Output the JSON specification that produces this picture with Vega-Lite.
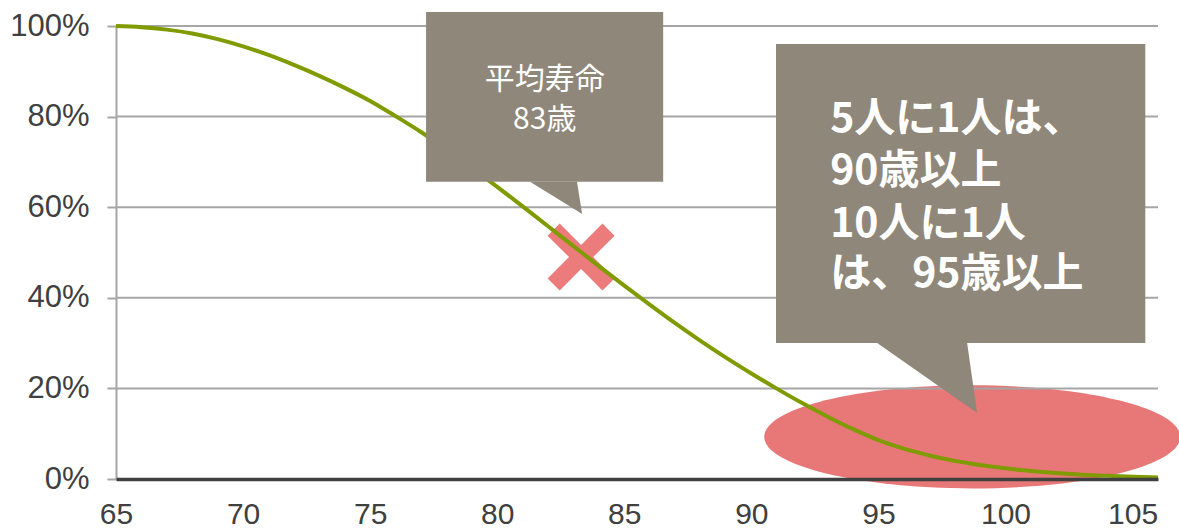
{
  "$schema": "https://vega.github.io/schema/vega-lite/v6.json",
  "width": 1042,
  "height": 453,
  "autosize": {"type": "none"},
  "padding": {"left": 116, "top": 26, "right": 21, "bottom": 51},
  "background": "white",
  "config": {"view": {"stroke": null}, "font": "Liberation Sans"},
  "datasets": {
    "survival": [
      {"age": 65, "pct": 1.0}, {"age": 66, "pct": 0.9975}, {"age": 67, "pct": 0.992}, {"age": 68, "pct": 0.9835},
      {"age": 69, "pct": 0.971}, {"age": 70, "pct": 0.955}, {"age": 71, "pct": 0.936}, {"age": 72, "pct": 0.914},
      {"age": 73, "pct": 0.89}, {"age": 74, "pct": 0.8635}, {"age": 75, "pct": 0.8345}, {"age": 76, "pct": 0.801},
      {"age": 77, "pct": 0.766}, {"age": 78, "pct": 0.728}, {"age": 79, "pct": 0.687}, {"age": 80, "pct": 0.645},
      {"age": 81, "pct": 0.602}, {"age": 82, "pct": 0.558}, {"age": 83, "pct": 0.514}, {"age": 84, "pct": 0.470},
      {"age": 85, "pct": 0.427}, {"age": 86, "pct": 0.385}, {"age": 87, "pct": 0.344}, {"age": 88, "pct": 0.305},
      {"age": 89, "pct": 0.268}, {"age": 90, "pct": 0.233}, {"age": 91, "pct": 0.1995}, {"age": 92, "pct": 0.1675},
      {"age": 93, "pct": 0.1375}, {"age": 94, "pct": 0.110}, {"age": 95, "pct": 0.086}, {"age": 96, "pct": 0.067},
      {"age": 97, "pct": 0.052}, {"age": 98, "pct": 0.040}, {"age": 99, "pct": 0.031}, {"age": 100, "pct": 0.0235},
      {"age": 101, "pct": 0.0175}, {"age": 102, "pct": 0.013}, {"age": 103, "pct": 0.0095}, {"age": 104, "pct": 0.007},
      {"age": 105, "pct": 0.005}, {"age": 106, "pct": 0.0035}
    ],
    "grid": [{"pct": 0.2}, {"pct": 0.4}, {"pct": 0.6}, {"pct": 0.8}, {"pct": 1.0}],
    "ellipse": [{"age": 98.69, "pct": 0.093}],
    "cross": [{"age": 83.3, "pct": 0.49}],
    "boxes": [
      {"age": 77.2, "age2": 86.53, "pct": 1.031, "pct2": 0.656},
      {"age": 90.97, "age2": 105.5, "pct": 0.96, "pct2": 0.30}
    ],
    "pointers": [
      {"box": "a", "age": 81.29, "pct": 0.656, "pct2": 0.656},
      {"box": "a", "age": 83.14, "pct": 0.656, "pct2": 0.592},
      {"box": "a", "age": 83.34, "pct": 0.585, "pct2": 0.585},
      {"box": "b", "age": 94.95, "pct": 0.30, "pct2": 0.30},
      {"box": "b", "age": 98.49, "pct": 0.30, "pct2": 0.161},
      {"box": "b", "age": 98.88, "pct": 0.146, "pct2": 0.146}
    ],
    "label1": [
      {"age": 81.87, "pct": 0.881, "text": "平均寿命"},
      {"age": 81.87, "pct": 0.792, "text": "83歳"}
    ],
    "label2": [
      {"age": 93.1, "pct": 0.792, "text": "5人に1人は、"},
      {"age": 93.1, "pct": 0.678, "text": "90歳以上"},
      {"age": 93.1, "pct": 0.561, "text": "10人に1人"},
      {"age": 93.1, "pct": 0.450, "text": "は、95歳以上"}
    ]
  },
  "layer": [
    {
      "data": {"name": "ellipse"},
      "mark": {"type": "point", "filled": true, "opacity": 1, "color": "#E87777",
               "shape": "M-1,0 A1,0.248 0 1,0 1,0 A1,0.248 0 1,0 -1,0 Z", "size": 173056},
      "encoding": {
        "x": {"field": "age", "type": "quantitative", "title": null,
              "scale": {"domain": [65, 106], "nice": false, "zero": false},
              "axis": {"values": [65, 70, 75, 80, 85, 90, 95, 100, 105], "ticks": false, "grid": false,
                       "labelFontSize": 30, "labelPadding": 20, "labelColor": "#404040", "labelFlush": false,
                       "labelFont": "Liberation Sans",
                       "domainColor": "#404040", "domainWidth": 3.5, "zindex": 1}},
        "y": {"field": "pct", "type": "quantitative", "title": null,
              "scale": {"domain": [0, 1], "nice": false, "zero": true},
              "axis": {"values": [0, 0.2, 0.4, 0.6, 0.8, 1], "format": ".0%", "grid": false,
                       "labelFontSize": 31, "labelPadding": 18, "labelColor": "#404040", "labelFont": "Liberation Sans",
                       "domainColor": "#A6A6A6", "domainWidth": 2, "tickColor": "#A6A6A6", "tickWidth": 2, "tickSize": 9}}
      }
    },
    {
      "data": {"name": "grid"},
      "mark": {"type": "rule", "color": "#A6A6A6", "strokeWidth": 2},
      "encoding": {
        "y": {"field": "pct", "type": "quantitative", "title": null, "scale": {"domain": [0, 1], "nice": false, "zero": true}}
      }
    },
    {
      "data": {"name": "cross"},
      "mark": {"type": "point", "filled": true, "opacity": 1, "color": "#EC7B7B", "angle": 45,
               "shape": "M-1,-0.22L-0.22,-0.22L-0.22,-1L0.22,-1L0.22,-0.22L1,-0.22L1,0.22L0.22,0.22L0.22,1L-0.22,1L-0.22,0.22L-1,0.22Z",
               "size": 6024},
      "encoding": {
        "x": {"field": "age", "type": "quantitative", "title": null, "scale": {"domain": [65, 106], "nice": false, "zero": false}},
        "y": {"field": "pct", "type": "quantitative", "title": null, "scale": {"domain": [0, 1], "nice": false, "zero": true}}
      }
    },
    {
      "data": {"name": "survival"},
      "mark": {"type": "line", "color": "#7F9B00", "strokeWidth": 4, "interpolate": "monotone"},
      "encoding": {
        "x": {"field": "age", "type": "quantitative", "title": null, "scale": {"domain": [65, 106], "nice": false, "zero": false}},
        "y": {"field": "pct", "type": "quantitative", "title": null, "scale": {"domain": [0, 1], "nice": false, "zero": true}}
      }
    },
    {
      "data": {"name": "boxes"},
      "mark": {"type": "rect", "color": "#8F877A", "opacity": 1},
      "encoding": {
        "x": {"field": "age", "type": "quantitative", "title": null, "scale": {"domain": [65, 106], "nice": false, "zero": false}},
        "x2": {"field": "age2"},
        "y": {"field": "pct", "type": "quantitative", "title": null, "scale": {"domain": [0, 1], "nice": false, "zero": true}},
        "y2": {"field": "pct2"}
      }
    },
    {
      "data": {"name": "pointers"},
      "mark": {"type": "area", "color": "#8F877A", "opacity": 1, "interpolate": "linear"},
      "encoding": {
        "x": {"field": "age", "type": "quantitative", "title": null, "scale": {"domain": [65, 106], "nice": false, "zero": false}},
        "y": {"field": "pct", "type": "quantitative", "title": null, "scale": {"domain": [0, 1], "nice": false, "zero": true}},
        "y2": {"field": "pct2"},
        "detail": {"field": "box", "type": "nominal"}
      }
    },
    {
      "data": {"name": "label1"},
      "mark": {"type": "text", "color": "white", "font": "Noto Sans CJK JP", "fontSize": 30, "align": "center", "baseline": "middle"},
      "encoding": {
        "x": {"field": "age", "type": "quantitative", "title": null, "scale": {"domain": [65, 106], "nice": false, "zero": false}},
        "y": {"field": "pct", "type": "quantitative", "title": null, "scale": {"domain": [0, 1], "nice": false, "zero": true}},
        "text": {"field": "text"}
      }
    },
    {
      "data": {"name": "label2"},
      "mark": {"type": "text", "color": "white", "font": "Noto Sans CJK JP", "fontSize": 41, "fontWeight": "bold", "align": "left", "baseline": "middle"},
      "encoding": {
        "x": {"field": "age", "type": "quantitative", "title": null, "scale": {"domain": [65, 106], "nice": false, "zero": false}},
        "y": {"field": "pct", "type": "quantitative", "title": null, "scale": {"domain": [0, 1], "nice": false, "zero": true}},
        "text": {"field": "text"}
      }
    }
  ]
}
